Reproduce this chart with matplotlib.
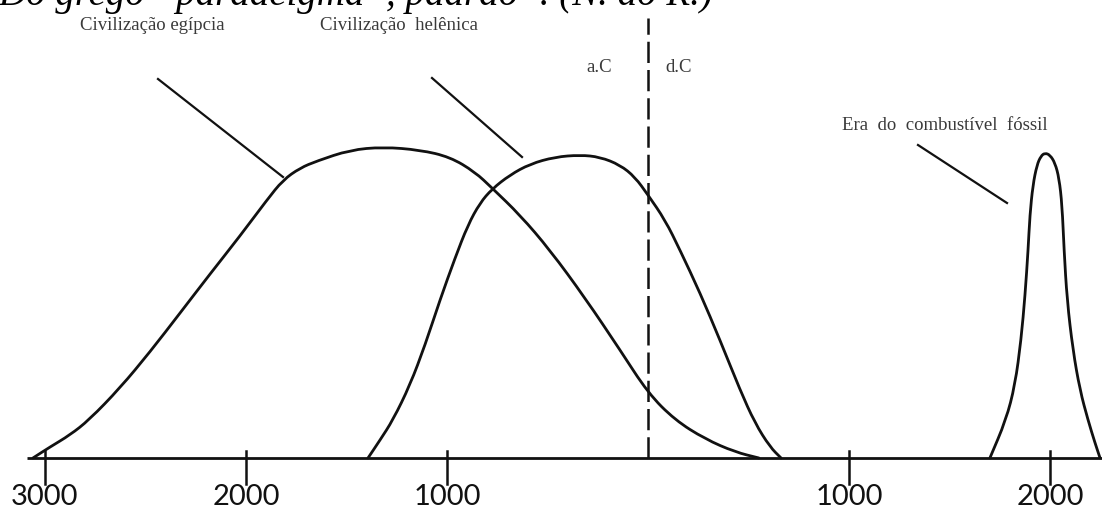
import matplotlib
matplotlib.use("Agg")
import matplotlib.pyplot as plt
from matplotlib.path import Path
from matplotlib.patches import PathPatch

# years (negative = a.C) and relative height of each civilisation curve
egipcia_anos = [-3060, -2975, -2876, -2781, -2627, -2478, -2328, -2179, -2030, -1896,
                -1816, -1731, -1647, -1483, -1318, -1134, -985, -861, -776, -637,
                -488, -313, -139, 0, 134, 284, 433, 552]
egipcia_alt = [0, 11, 23, 38, 70, 106, 145, 184, 222, 258,
               278, 290, 297, 308, 311, 308, 301, 286, 270, 243,
               208, 160, 108, 65, 38, 19, 6, 0]

helenica_anos = [-1393, -1333, -1269, -1184, -1109, -1035, -960, -896, -836, -776,
                 -687, -587, -463, -338, -239, -139, -65, 0, 85, 159,
                 259, 358, 458, 532, 607, 662]
helenica_alt = [0, 18, 38, 73, 113, 158, 200, 233, 255, 269,
                283, 294, 301, 303, 301, 293, 281, 263, 238, 208,
                165, 118, 68, 35, 11, 0]

fossil_anos = [1701, 1781, 1826, 1856, 1876, 1891, 1900, 1915, 1935, 1955, 1975,
               2000, 2025, 2045, 2060, 2070, 2085, 2114, 2149, 2189, 2224, 2249]
fossil_alt = [0, 38, 73, 118, 163, 208, 243, 273, 293, 302, 305,
              303, 295, 280, 253, 208, 158, 108, 68, 38, 15, 0]

tick_anos = [-3000, -2000, -1000, 1000, 2000]
tick_labels = ["3000", "2000", "1000", "1000", "2000"]

# pixel -> data helpers (layout only)
X0, SX, Y0 = 648, 0.201, 458


def px(x, y):
    return (x - X0) / SX, Y0 - y


def smooth_path(xs, ys):
    # quadratic bezier through the midpoints, read points act as controls
    pts = list(zip(xs, ys))
    verts = [pts[0]]
    codes = [Path.MOVETO]
    mid = lambda p, q: ((p[0] + q[0]) / 2, (p[1] + q[1]) / 2)
    verts.append(mid(pts[0], pts[1]))
    codes.append(Path.LINETO)
    for i in range(1, len(pts) - 1):
        verts += [pts[i], mid(pts[i], pts[i + 1])]
        codes += [Path.CURVE3, Path.CURVE3]
    verts.append(pts[-1])
    codes.append(Path.LINETO)
    return Path(verts, codes)


fig = plt.figure(figsize=(11.02, 5.13), dpi=100)
ax = fig.add_axes([0, 0, 1, 1])
ax.set_xlim(px(0, 0)[0], px(1102, 0)[0])
ax.set_ylim(Y0 - 513, Y0)
ax.axis("off")

lw = 2.0
ink = "#111111"

# time axis
a, _ = px(27, 0)
b, _ = px(1102, 0)
ax.plot([a, b], [0, 0], color=ink, lw=lw, solid_capstyle="butt")
for t, lab in zip(tick_anos, tick_labels):
    ax.plot([t, t], [7, -26], color=ink, lw=1.8)
    ax.text(t, px(0, 497)[1], lab, ha="center", va="center",
            fontsize=21, family="Lato", color=ink)

# a.C / d.C divider
ax.plot([0, 0], [0, Y0 - 18], color=ink, lw=1.8, dashes=(8.5, 2.8))

for xs, ys in [(egipcia_anos, egipcia_alt), (helenica_anos, helenica_alt),
               (fossil_anos, fossil_alt)]:
    ax.add_patch(PathPatch(smooth_path(xs, ys), fill=False, edgecolor=ink,
                           lw=lw, joinstyle="round", capstyle="round"))

# pointer lines
for (x1, y1), (x2, y2) in [((158, 79), (283, 177)), ((432, 78), (522, 157)),
                           ((918, 145), (1007, 203))]:
    p1, p2 = px(x1, y1), px(x2, y2)
    ax.plot([p1[0], p2[0]], [p1[1], p2[1]], color=ink, lw=1.6)

lab_style = dict(family="Liberation Serif", fontsize=13.5, color="#3a3a3a",
                 ha="left", va="center")
ax.text(*px(80, 25), "Civilização egípcia", **lab_style)
ax.text(*px(320, 25), "Civilização  helênica", **lab_style)
ax.text(*px(586, 68), "a.C", **lab_style)
ax.text(*px(665, 68), "d.C", **lab_style)
ax.text(*px(842, 126), "Era  do  combustível  fóssil", **lab_style)

ax.text(*px(-2, 5), "Do grego \u201cparadeigma\u201d, padrão\u201d. (N. do R.)",
        family="Liberation Serif", style="italic", fontsize=28, color="black",
        ha="left", va="baseline")

fig.savefig("out.png", dpi=100)
